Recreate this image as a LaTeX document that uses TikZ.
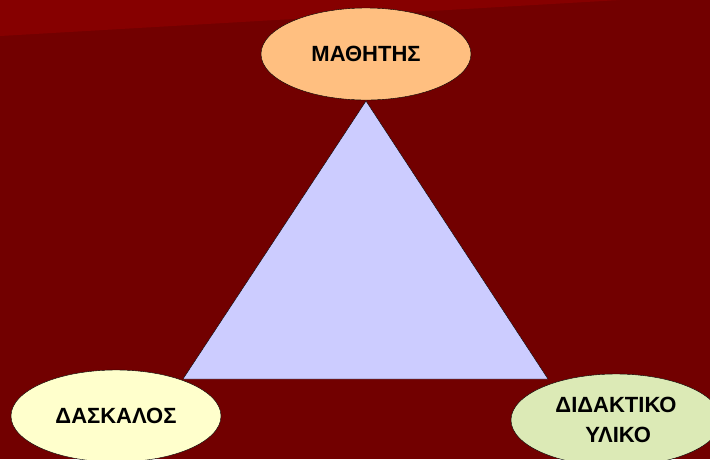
\documentclass[tikz,border=0pt]{standalone}
\usepackage{fontspec}
\setmainfont{Liberation Sans}
\usetikzlibrary{shapes.geometric}
\definecolor{bgred}{HTML}{720000}
\definecolor{bandred}{HTML}{860000}
\definecolor{trifill}{HTML}{CCCCFF}
\definecolor{pupilfill}{HTML}{FFBF80}
\definecolor{teacherfill}{HTML}{FFFFCC}
\definecolor{materialfill}{HTML}{DCEAB6}
\begin{document}
\begin{tikzpicture}[x = 1pt, y = -1pt,
    corner/.style = {ellipse, draw = black, thin, minimum width = 210pt, minimum height = 92pt,
      inner sep = 0pt, align = left, font = \bfseries\fontsize{22}{30}\selectfont}]
        \clip (0, 0) rectangle (710, 459);
        \fill[bgred] (0, 0) rectangle (710, 459);
        \fill[bandred] (0, 0) -- (620, 0) -- (0, 36) -- cycle;

        \coordinate (apex) at (366, 101);
        \coordinate (baseL) at (183, 379);
        \coordinate (baseR) at (548, 379);
        \filldraw[fill = trifill, draw = black] (apex) -- (baseL) -- (baseR) -- cycle;

        \node[corner, fill = pupilfill] (pupil) at (366, 54) {ΜΑΘΗΤΗΣ};
        \node[corner, fill = teacherfill] (teacher) at (116, 416) {ΔΑΣΚΑΛΟΣ};
        \node[corner, fill = materialfill] (material) at (616, 420) {ΔΙΔΑΚΤΙΚΟ\\\hspace*{30pt}ΥΛΙΚΟ};
      \end{tikzpicture}
\end{document}
